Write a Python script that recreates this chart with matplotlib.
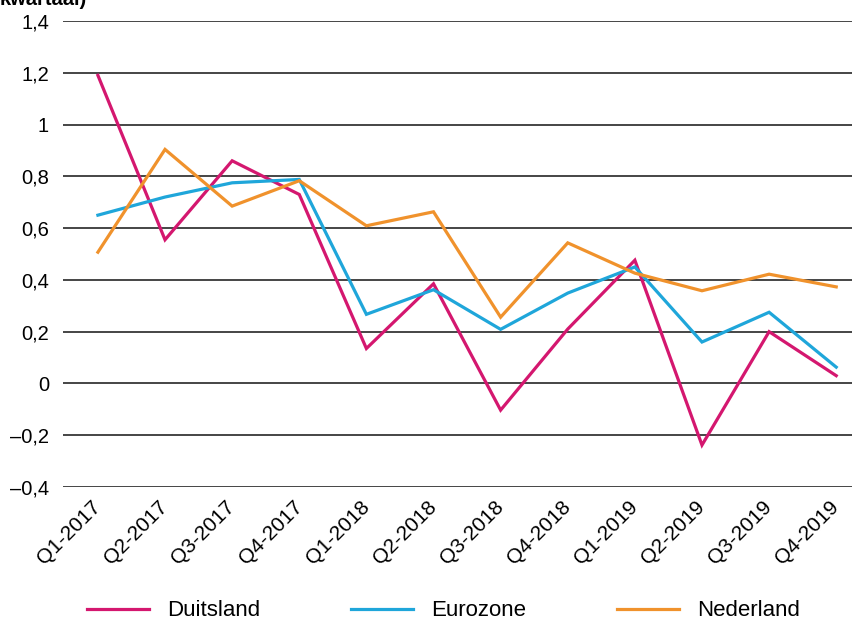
import matplotlib
matplotlib.use("Agg")
import matplotlib.pyplot as plt

quarters = ["Q1-2017", "Q2-2017", "Q3-2017", "Q4-2017",
            "Q1-2018", "Q2-2018", "Q3-2018", "Q4-2018",
            "Q1-2019", "Q2-2019", "Q3-2019", "Q4-2019"]
duitsland = [1.19, 0.555, 0.86, 0.73, 0.135, 0.385, -0.103, 0.21, 0.476, -0.238, 0.20, 0.03]
eurozone = [0.65, 0.72, 0.775, 0.788, 0.267, 0.362, 0.209, 0.349, 0.45, 0.16, 0.275, 0.063]
nederland = [0.507, 0.904, 0.685, 0.783, 0.609, 0.663, 0.256, 0.543, 0.426, 0.358, 0.422, 0.373]
yticks = [-0.4, -0.2, 0, 0.2, 0.4, 0.6, 0.8, 1.0, 1.2, 1.4]
series_names = ["Duitsland", "Eurozone", "Nederland"]

plt.rcParams['font.family'] = ['Liberation Sans', 'DejaVu Sans']

W, H = 853, 623
fig = plt.figure(figsize=(W / 100, H / 100), dpi=100)
ax = fig.add_axes([63 / W, 1 - 487 / H, (W - 63) / W, (487 - 21) / H])

x = list(range(len(quarters)))
colors = ["#D4176F", "#1FA6DA", "#F0922C"]
for vals, c, name in zip([duitsland, eurozone, nederland], colors, series_names):
    ax.plot(x, vals, color=c, lw=2.3, label=name, solid_joinstyle='miter', zorder=3)

ax.set_ylim(-0.4, 1.4)
ax.set_xlim(-0.52, 11.25)
ax.set_yticks(yticks)


def fmt(v):
    s = f"{v:.1f}".replace(".", ",")
    if s.endswith(",0"):
        s = s[:-2]
    if s.startswith("-"):
        s = "\u2013" + s[1:]
    if s == "\u20130":
        s = "0"
    return s


ax.set_yticklabels([fmt(v) for v in yticks], fontsize=14.5)
ax.yaxis.grid(True, color="#262626", lw=1.2)
ax.set_axisbelow(True)
for s in ax.spines.values():
    s.set_visible(False)
ax.tick_params(axis='y', length=0, pad=10)
ax.tick_params(axis='x', length=0, pad=12)
ax.set_xticks(x)
ax.set_xticklabels(quarters, rotation=45, ha='right', va='center',
                   rotation_mode='anchor', fontsize=15)

fig.text(0.0, 1 - 5 / H, "kwartaal)", fontsize=14.5, fontweight='bold',
         va='baseline', ha='left')

fig.legend(loc='center', bbox_to_anchor=(0.5 + 17 / W, 1 - 611 / H), ncol=3, frameon=False,
           fontsize=16, handlelength=2.8, handletextpad=0.8, columnspacing=4.1,
           borderpad=0.2)

fig.savefig("out.png", dpi=100)
